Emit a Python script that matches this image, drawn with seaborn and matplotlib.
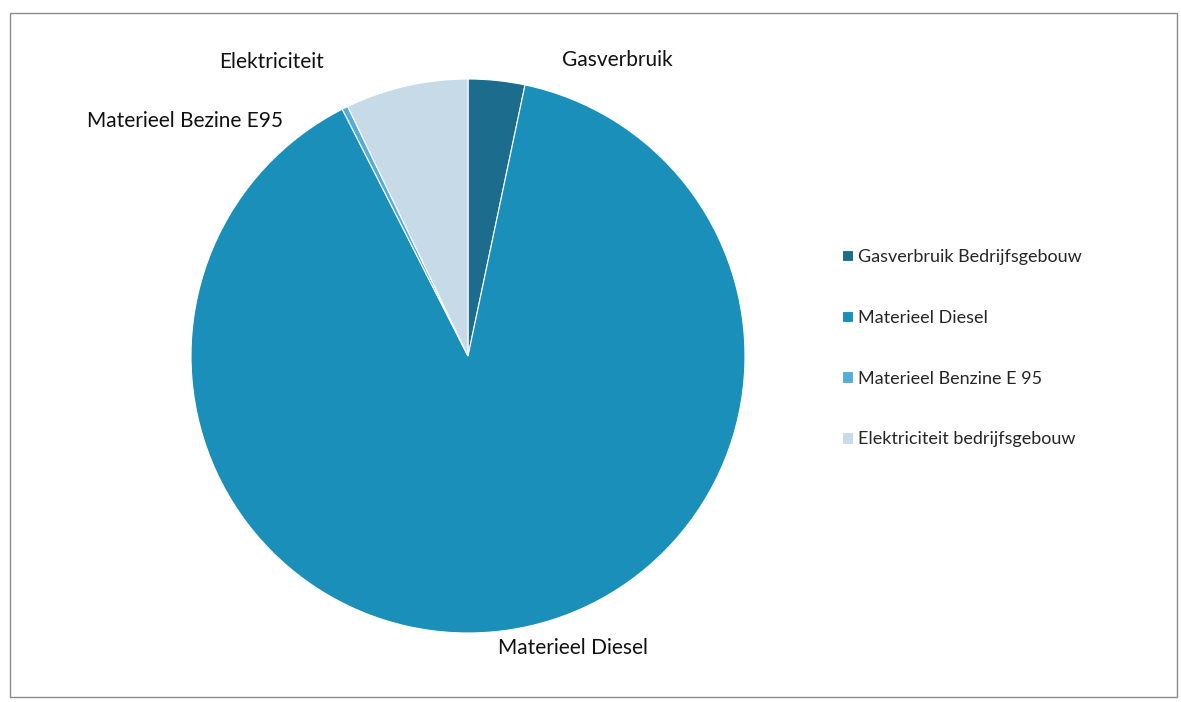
import matplotlib
matplotlib.use("Agg")
import matplotlib.pyplot as plt
import seaborn as sns
from matplotlib.patches import Rectangle

# data (share of total, %)
categories = ["Gasverbruik Bedrijfsgebouw", "Materieel Diesel",
              "Materieel Benzine E 95", "Elektriciteit bedrijfsgebouw"]
values = [3.3, 89.2, 0.35, 7.15]
slice_labels = ["Gasverbruik", "Materieel Diesel", "Materieel Bezine E95", "Elektriciteit"]
colors = ["#1c6c8e", "#1a8fb9", "#55acd6", "#c6dbe7"]

sns.set_theme(style="white")
plt.rcParams['font.family'] = ['Lato', 'DejaVu Sans']

fig = plt.figure(figsize=(11.81, 7.02), dpi=100)
ax = fig.add_axes([0, 0, 1, 1])

wedges, _ = ax.pie(values, colors=colors, startangle=90, counterclock=False,
                   radius=1.0, center=(0, 0),
                   wedgeprops=dict(linewidth=0.8, edgecolor="white"))

# external labels placed like the original "best fit" layout
label_pos = {
    "Gasverbruik": (0.54, 1.07),
    "Materieel Diesel": (0.38, -1.055),
    "Materieel Bezine E95": (-1.02, 0.85),
    "Elektriciteit": (-0.71, 1.063),
}
for lab in slice_labels:
    x, y = label_pos[lab]
    ax.text(x, y, lab, ha="center", va="center", fontsize=15, color="#111111")

# same pixel scale on both axes (277 px per unit)
ax.set_xlim((0 - 468) / 277, (1181 - 468) / 277)
ax.set_ylim((356 - 702) / 277, (356 - 0) / 277)
ax.axis("off")

leg = fig.legend(wedges, categories, loc="upper left",
                 bbox_to_anchor=(842 / 1181, 1 - 249 / 702),
                 frameon=False, fontsize=13, labelspacing=2.48,
                 handlelength=0.6, handleheight=0.6, handletextpad=0.3,
                 borderpad=0, borderaxespad=0)

fig.patches.append(Rectangle((10 / 1181, 5 / 702), 1167 / 1181, 684 / 702,
                             transform=fig.transFigure, fill=False,
                             edgecolor="#8a8a8a", linewidth=1.0))

fig.savefig("out.png", dpi=100)
